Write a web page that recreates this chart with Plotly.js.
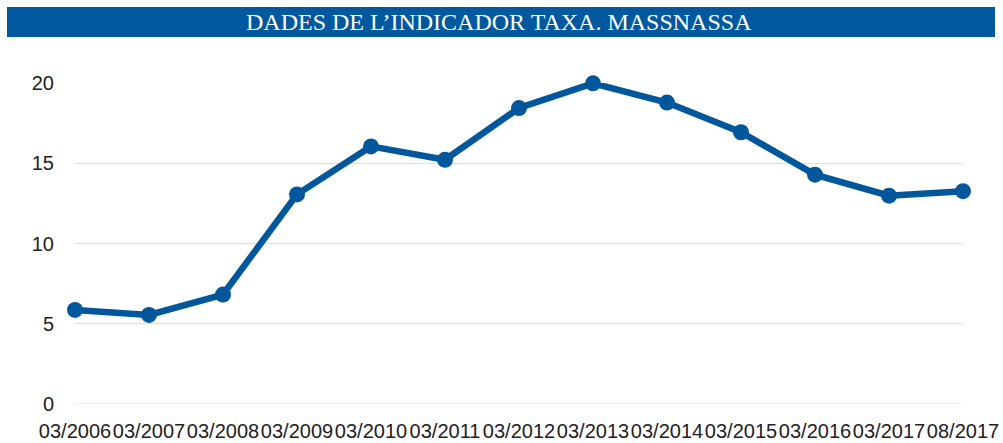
<!DOCTYPE html>
<html>
<head>
<meta charset="utf-8">
<script src="https://cdn.plot.ly/plotly-3.0.1.min.js"></script>
<style>html,body{margin:0;padding:0;background:#fff;}#chart{width:1003px;height:443px;}</style>
</head>
<body>
<div id="chart"></div>
<script>
const categories = ["03/2006","03/2007","03/2008","03/2009","03/2010","03/2011","03/2012","03/2013","03/2014","03/2015","03/2016","03/2017","08/2017"];
const values = [5.86, 5.55, 6.82, 13.06, 16.05, 15.22, 18.44, 19.98, 18.78, 16.93, 14.29, 12.98, 13.26];
const yTicks = [0, 5, 10, 15, 20];
const titleText = "DADES DE L\u2019INDICADOR TAXA. MASSNASSA";

const blue = "#01579b";
const trace = {
  x: categories, y: values, type: "scatter", mode: "lines+markers",
  line: {color: blue, width: 6.5},
  marker: {color: blue, size: 16},
  cliponaxis: false, hoverinfo: "skip"
};
const W = 1003, H = 443, L = 75, R = 40, T = 83, B = 39;
const pw = W - L - R, ph = H - T - B;
const px = v => (v - L) / pw;
const py = v => (H - B - v) / ph;
const layout = {
  width: W, height: H,
  margin: {l: L, r: R, t: T, b: B, pad: 0},
  paper_bgcolor: "#fff", plot_bgcolor: "#fff",
  showlegend: false,
  font: {family: "Liberation Sans, Arial, sans-serif", size: 20, color: "#222"},
  xaxis: {
    type: "category", range: [0, categories.length - 1],
    tickmode: "array", tickvals: categories, ticktext: categories,
    tickangle: 0, showgrid: false, zeroline: false, showline: false,
    ticks: "", ticklabelstandoff: 13, automargin: false,
    tickfont: {family: "Liberation Sans, Arial, sans-serif", size: 20, color: "#222"}
  },
  yaxis: {
    range: [0, 20], tickmode: "array", tickvals: yTicks, ticktext: yTicks.map(String),
    showgrid: true, gridcolor: "#dedede", gridwidth: 1, zeroline: false, showline: false,
    ticks: "", ticklabelstandoff: 20, automargin: false,
    tickfont: {family: "Liberation Sans, Arial, sans-serif", size: 20, color: "#222"}
  },
  shapes: [
    {type: "line", xref: "paper", yref: "y", x0: 0, x1: 1, y0: 0, y1: 0, line: {color: "#dedede", width: 1}, layer: "below"},
    {type: "rect", xref: "paper", yref: "paper", x0: px(7), x1: px(995), y0: py(37), y1: py(7), fillcolor: "#00589f", line: {width: 0}}
  ],
  annotations: [
    {xref: "paper", yref: "paper", x: px(499), y: py(22), xanchor: "center", yanchor: "middle",
     text: titleText, showarrow: false,
     font: {family: "Liberation Serif, Times New Roman, serif", size: 24, color: "#fff"}}
  ]
};
Plotly.newPlot("chart", [trace], layout, {staticPlot: true, displayModeBar: false});
</script>
</body>
</html>
